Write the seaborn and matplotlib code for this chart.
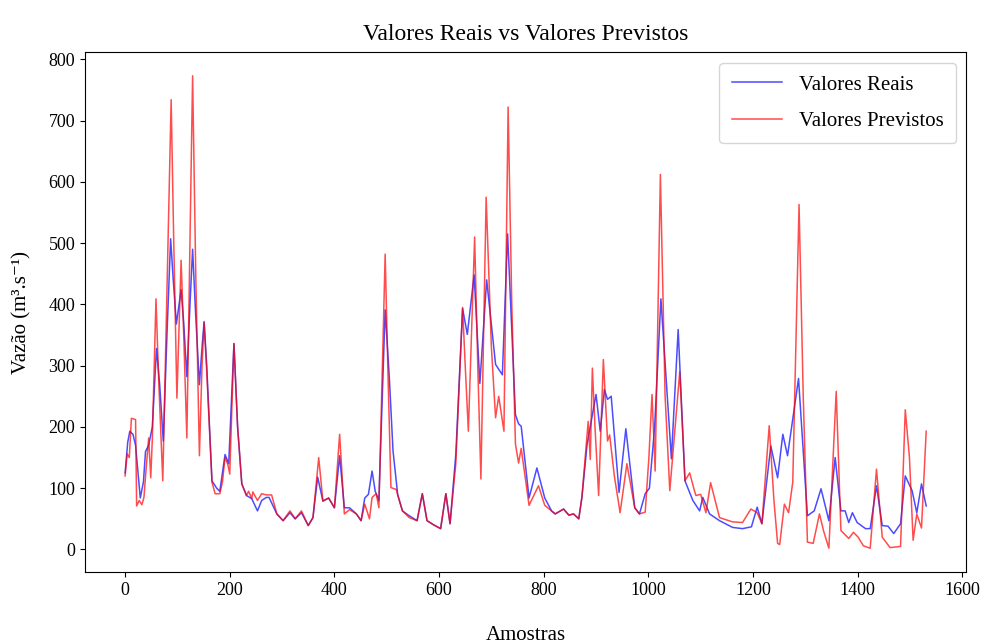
import numpy as np
import pandas as pd
import matplotlib
matplotlib.use("Agg")
import matplotlib.pyplot as plt
import seaborn as sns

# Sample index / value pairs
real_x = [0, 5, 9, 15, 20, 29, 35, 39, 45, 52, 60, 66, 73, 80, 87, 92, 98, 107, 112, 118,
          124, 129, 135, 142, 147, 151, 156, 166, 175, 181, 191, 198, 208, 215, 223, 232, 242, 253, 261, 270,
          275, 290, 302, 315, 325, 337, 350, 359, 368, 378, 389, 400, 410, 419, 429, 442, 451, 458, 465, 472,
          478, 485, 497, 505, 512, 521, 530, 543, 558, 568, 577, 590, 603, 613, 621, 632, 645, 654, 667, 678,
          691, 708, 721, 731, 746, 752, 757, 772, 787, 802, 815, 822, 838, 848, 857, 867, 873, 883, 893, 900,
          908, 916, 922, 929, 944, 957, 974, 983, 994, 1002, 1012, 1024, 1044, 1057, 1070, 1085, 1098, 1104, 1117, 1136,
          1161, 1180, 1197, 1208, 1217, 1234, 1247, 1257, 1266, 1287, 1304, 1317, 1330, 1345, 1357, 1368, 1376, 1383, 1390, 1399,
          1415, 1424, 1436, 1447, 1458, 1469, 1482, 1491, 1504, 1513, 1522, 1531]
real_y = [125, 175, 193, 188, 170, 84, 110, 160, 170, 200, 328, 270, 177, 350, 507, 440, 368, 424, 370, 282,
          400, 490, 380, 269, 330, 372, 300, 112, 100, 95, 155, 140, 336, 200, 107, 88, 83, 63, 80, 85,
          85, 58, 47, 60, 50, 60, 39, 52, 118, 79, 84, 68, 153, 68, 68, 58, 47, 84, 90, 128,
          95, 80, 391, 280, 161, 89, 63, 55, 47, 91, 47, 40, 34, 91, 42, 155, 393, 351, 448, 271,
          440, 302, 285, 515, 220, 205, 201, 84, 133, 84, 63, 58, 66, 56, 58, 50, 85, 172, 220, 253,
          193, 261, 245, 250, 93, 197, 68, 58, 91, 100, 200, 409, 148, 359, 112, 80, 63, 85, 58, 47,
          36, 34, 37, 69, 42, 169, 117, 188, 153, 279, 55, 63, 99, 47, 150, 63, 63, 44, 60, 44,
          34, 34, 104, 39, 38, 26, 42, 120, 96, 60, 107, 71]

pred_x = [0, 4, 8, 12, 20, 22, 27, 32, 36, 40, 45, 49, 52, 59, 64, 72, 80, 88, 93, 99,
          107, 112, 118, 124, 129, 135, 142, 147, 151, 156, 166, 172, 181, 186, 191, 196, 200, 208, 215, 223,
          232, 236, 242, 244, 253, 261, 270, 280, 290, 302, 315, 325, 337, 350, 359, 370, 378, 389, 400, 410,
          419, 429, 442, 451, 458, 467, 472, 480, 485, 497, 502, 508, 518, 530, 543, 558, 568, 577, 590, 603,
          613, 621, 632, 645, 650, 656, 668, 674, 680, 690, 700, 708, 714, 724, 732, 739, 746, 752, 757, 772,
          790, 802, 815, 822, 838, 848, 857, 867, 873, 885, 889, 893, 898, 905, 914, 922, 926, 935, 946, 959,
          974, 983, 994, 1001, 1007, 1013, 1023, 1032, 1041, 1060, 1070, 1079, 1088, 1091, 1100, 1110, 1119, 1136, 1161, 1180,
          1196, 1208, 1217, 1231, 1240, 1247, 1251, 1260, 1268, 1276, 1288, 1296, 1304, 1315, 1327, 1335, 1345, 1359, 1368, 1383,
          1392, 1401, 1411, 1424, 1436, 1447, 1462, 1482, 1491, 1499, 1506, 1513, 1522, 1531]
pred_y = [120, 156, 150, 214, 212, 71, 80, 73, 85, 130, 182, 117, 180, 409, 280, 112, 420, 734, 500, 247,
          472, 350, 182, 500, 773, 450, 153, 300, 370, 290, 110, 91, 91, 110, 150, 140, 123, 336, 200, 107,
          88, 95, 83, 94, 80, 91, 89, 89, 58, 47, 63, 50, 63, 39, 52, 150, 79, 84, 68, 188,
          58, 65, 58, 47, 74, 50, 85, 91, 68, 482, 300, 101, 98, 63, 52, 47, 91, 47, 40, 34,
          91, 42, 140, 395, 300, 193, 510, 300, 115, 575, 330, 215, 250, 193, 722, 400, 172, 141, 165, 72,
          104, 72, 63, 58, 66, 56, 58, 50, 85, 209, 147, 296, 200, 88, 310, 177, 187, 120, 60, 140,
          68, 58, 61, 150, 253, 128, 612, 250, 96, 290, 112, 125, 96, 88, 90, 60, 109, 52, 45, 44,
          66, 60, 42, 202, 80, 10, 8, 74, 60, 110, 563, 250, 12, 10, 58, 30, 2, 258, 31, 18,
          28, 20, 6, 2, 131, 20, 3, 5, 228, 150, 15, 58, 35, 193]

real_df = pd.DataFrame({"Amostras": real_x, "Vazao": real_y})
pred_df = pd.DataFrame({"Amostras": pred_x, "Vazao": pred_y})

plt.rcParams['font.family'] = ['Liberation Serif', 'DejaVu Serif']

fig, ax = plt.subplots(figsize=(9.89, 6.44), dpi=100)
fig.subplots_adjust(left=0.086, right=0.977, top=0.919, bottom=0.112)

sns.lineplot(data=real_df, x="Amostras", y="Vazao", ax=ax, color="blue", alpha=0.7,
             linewidth=1.1, sort=False, label="Valores Reais")
sns.lineplot(data=pred_df, x="Amostras", y="Vazao", ax=ax, color="red", alpha=0.7,
             linewidth=1.1, sort=False, label="Valores Previstos")

ax.set_title("Valores Reais vs Valores Previstos", fontsize=17, pad=9)
ax.set_xlabel("Amostras", fontsize=15, labelpad=20)
ax.set_ylabel("Vazão (m³.s⁻¹)", fontsize=15, labelpad=12)
ax.set_xticks(np.arange(0, 1601, 200))
ax.set_yticks(np.arange(0, 801, 100))
ax.tick_params(labelsize=13)
ax.legend(loc="upper right", fontsize=15, frameon=True, handlelength=2.4,
          labelspacing=0.8, borderpad=0.6)

fig.savefig("out.png", dpi=100)
